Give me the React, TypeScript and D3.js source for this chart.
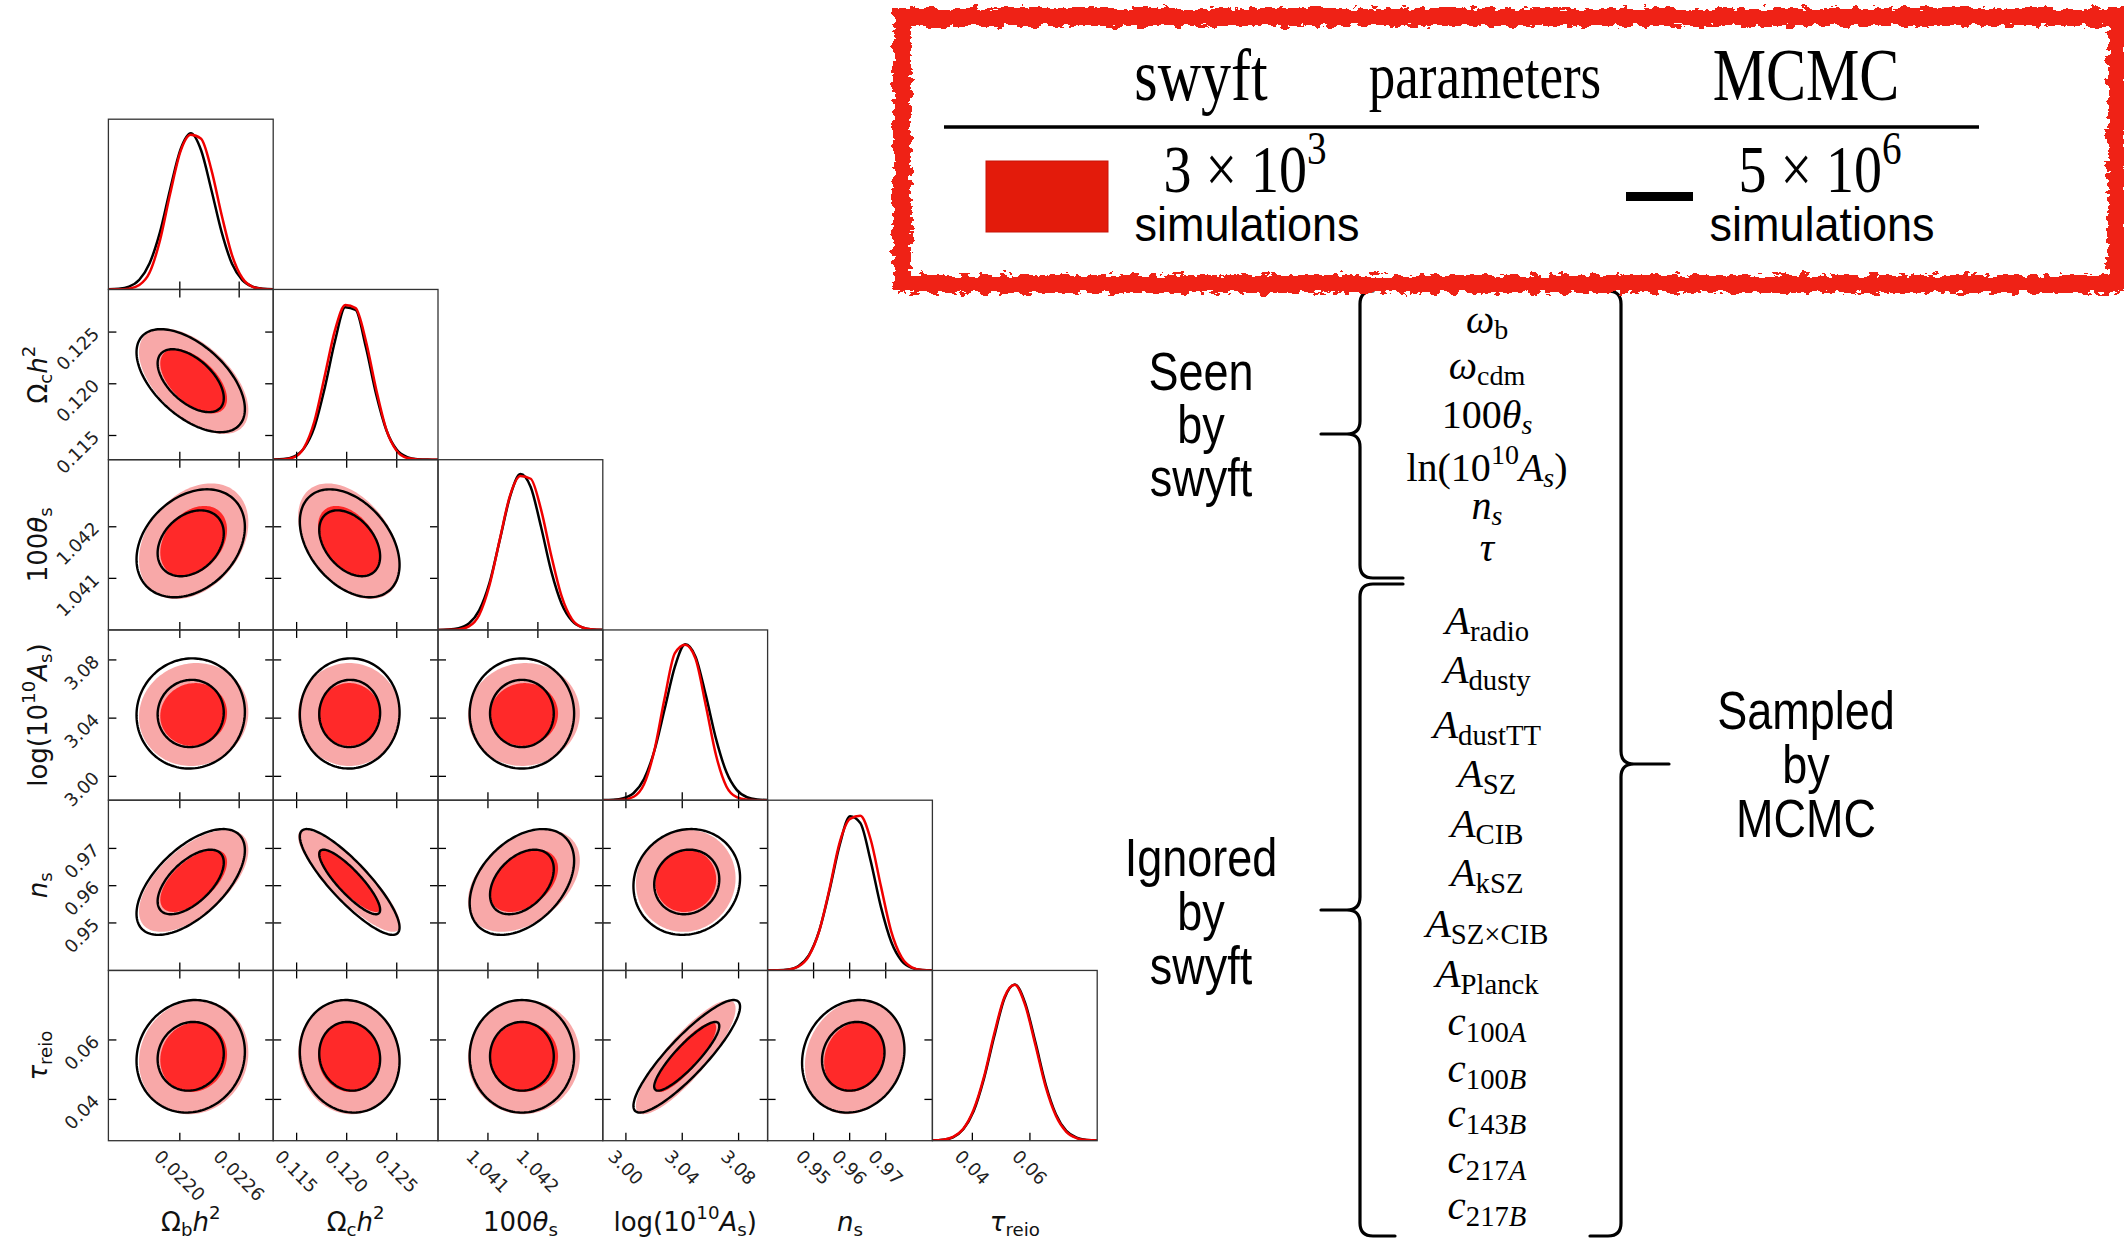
import React from 'react';
import * as d3 from 'd3';

// ---------------- data ----------------
const PARAM_NAMES = ['omega_b', 'omega_cdm', '100theta_s', 'logA', 'n_s', 'tau_reio'];
const AXIS_DOMAINS: [number, number][] = [
  [0.021278, 0.022944],
  [0.11266, 0.12912],
  [1.0400, 1.0433],
  [2.9836, 3.1006],
  [0.93725, 0.98294],
  [0.02612, 0.08337],
];
const AXIS_TICKS: number[][] = [
  [0.0220, 0.0226],
  [0.115, 0.120, 0.125],
  [1.041, 1.042],
  [3.00, 3.04, 3.08],
  [0.95, 0.96, 0.97],
  [0.04, 0.06],
];
const AXIS_TICK_LABELS: string[][] = [
  ['0.0220', '0.0226'],
  ['0.115', '0.120', '0.125'],
  ['1.041', '1.042'],
  ['3.00', '3.04', '3.08'],
  ['0.95', '0.96', '0.97'],
  ['0.04', '0.06'],
];
// posterior summaries
const MCMC_MEAN = [0.02211, 0.1203, 1.04168, 3.0432, 0.9610, 0.0545];
const MCMC_SIGMA = [0.000220, 0.00200, 0.00042, 0.0152, 0.0057, 0.0076];
const SWYFT_MEAN = [0.02214, 0.12025, 1.04172, 3.0425, 0.9613, 0.0542];
const SWYFT_SIGMA = [0.000222, 0.00205, 0.00045, 0.0142, 0.0055, 0.0077];
const PAIRS = ['1-0', '2-0', '2-1', '3-0', '3-1', '3-2', '4-0', '4-1', '4-2', '4-3', '5-0', '5-1', '5-2', '5-3', '5-4'];
const MCMC_RHO = [-0.55, 0.30, -0.40, 0.03, 0.02, 0.00, 0.60, -0.86, 0.40, 0.08, 0.08, -0.08, 0.00, 0.88, 0.12];
const SWYFT_RHO = [-0.55, 0.32, -0.42, 0.05, 0.00, 0.03, 0.60, -0.86, 0.40, 0.05, 0.08, -0.05, 0.02, 0.85, 0.15];
// 1D marginals, sampled at 17 evenly spaced points across each axis range
const MCMC_1D: number[][] = [
  [0.001, 0.004, 0.018, 0.062, 0.168, 0.365, 0.643, 0.896, 1.0, 0.891, 0.637, 0.365, 0.164, 0.060, 0.018, 0.004, 0.001],
  [0.0007, 0.0042, 0.020, 0.074, 0.209, 0.458, 0.760, 0.976, 0.959, 0.720, 0.418, 0.187, 0.063, 0.017, 0.0033, 0.0005, 0.0001],
  [0.0003, 0.0021, 0.0104, 0.041, 0.125, 0.301, 0.576, 0.855, 0.998, 0.915, 0.661, 0.375, 0.168, 0.059, 0.016, 0.0034, 0.0006],
  [0.0005, 0.0027, 0.0125, 0.046, 0.135, 0.315, 0.582, 0.855, 0.998, 0.919, 0.673, 0.391, 0.180, 0.066, 0.019, 0.0045, 0.0008],
  [0.0002, 0.0012, 0.0068, 0.029, 0.097, 0.252, 0.510, 0.804, 0.987, 0.944, 0.703, 0.407, 0.184, 0.063, 0.017, 0.0037, 0.0006],
  [0.0011, 0.0056, 0.022, 0.073, 0.188, 0.396, 0.667, 0.912, 1.0, 0.882, 0.631, 0.360, 0.168, 0.063, 0.019, 0.0046, 0.0009],
];
const SWYFT_1D: number[][] = [
  [0.0002, 0.0008, 0.005, 0.028, 0.108, 0.312, 0.614, 0.884, 0.99, 0.965, 0.766, 0.475, 0.22, 0.073, 0.017, 0.0032, 0.0004],
  [0.0003, 0.002, 0.015, 0.078, 0.246, 0.535, 0.83, 0.99, 0.97, 0.76, 0.45, 0.19, 0.056, 0.011, 0.002, 0.0003, 0],
  [0.0001, 0.0005, 0.0037, 0.0225, 0.096, 0.286, 0.58, 0.862, 0.985, 0.968, 0.772, 0.475, 0.216, 0.069, 0.016, 0.0026, 0.0004],
  [0, 0.0003, 0.0034, 0.022, 0.1015, 0.317, 0.653, 0.941, 0.995, 0.906, 0.607, 0.286, 0.088, 0.019, 0.0028, 0.0003, 0],
  [0.0001, 0.0008, 0.005, 0.025, 0.092, 0.25, 0.52, 0.82, 0.97, 0.99, 0.84, 0.54, 0.25, 0.085, 0.02, 0.003, 0.0004],
  [0.0013, 0.006, 0.024, 0.076, 0.198, 0.407, 0.685, 0.92, 0.998, 0.869, 0.613, 0.344, 0.158, 0.057, 0.017, 0.004, 0.0008],
];

type Seg = [string, string]; // style: r roman, i italic, br sub roman, bi sub italic, pr sup roman
const AXIS_LABELS: Seg[][] = [
  [['Ω', 'r'], ['b', 'br'], ['h', 'i'], ['2', 'pr']],
  [['Ω', 'r'], ['c', 'br'], ['h', 'i'], ['2', 'pr']],
  [['100', 'r'], ['θ', 'i'], ['s', 'br']],
  [['log(10', 'r'], ['10', 'pr'], ['A', 'i'], ['s', 'br'], [')', 'r']],
  [['n', 'i'], ['s', 'br']],
  [['τ', 'i'], ['reio', 'br']],
];
const SEEN_PARAMS: Seg[][] = [
  [['ω', 'i'], ['b', 'br']],
  [['ω', 'i'], ['cdm', 'br']],
  [['100', 'r'], ['θ', 'i'], ['s', 'bi']],
  [['ln(10', 'r'], ['10', 'pr'], ['A', 'i'], ['s', 'bi'], [')', 'r']],
  [['n', 'i'], ['s', 'bi']],
  [['τ', 'i']],
];
const IGNORED_PARAMS: Seg[][] = [
  [['A', 'i'], ['radio', 'br']],
  [['A', 'i'], ['dusty', 'br']],
  [['A', 'i'], ['dustTT', 'br']],
  [['A', 'i'], ['SZ', 'br']],
  [['A', 'i'], ['CIB', 'br']],
  [['A', 'i'], ['kSZ', 'br']],
  [['A', 'i'], ['SZ×CIB', 'br']],
  [['A', 'i'], ['Planck', 'br']],
  [['c', 'i'], ['100', 'br'], ['A', 'bi']],
  [['c', 'i'], ['100', 'br'], ['B', 'bi']],
  [['c', 'i'], ['143', 'br'], ['B', 'bi']],
  [['c', 'i'], ['217', 'br'], ['A', 'bi']],
  [['c', 'i'], ['217', 'br'], ['B', 'bi']],
];
const GROUP_TEXT = { seen: ['Seen', 'by', 'swyft'], ignored: ['Ignored', 'by', 'swyft'], sampled: ['Sampled', 'by', 'MCMC'] };
const LEGEND_HEAD = ['swyft', 'parameters', 'MCMC'];

// ---------------- layout ----------------
const GRID_LEFT = 108.4, GRID_TOP = 119.2, CELL_W = 164.8, CELL_H = 170.25;
const K68 = 1.52, K95 = 2.49;
const SEEN_Y = [333, 379, 428, 481, 519, 561];
const IGNORED_Y = [634, 683, 738, 787, 837, 886, 937, 987, 1035, 1082, 1127, 1173, 1219];
const LIST_X = 1487;
const SERIF = "'Liberation Serif', 'Times New Roman', serif";
const SANS = "'Liberation Sans', Arial, sans-serif";
const DJV = "'DejaVu Sans', sans-serif";
const TICK_FS = 18;

function renderSegs(segs: Seg[], fs: number, subDy = 0.22, supDy = -0.42) {
  let cur = 0;
  return segs.map(([t, st], k) => {
    const isSub = st[0] === 'b';
    const isSup = st[0] === 'p';
    const target = isSub ? subDy * fs : isSup ? supDy * fs : 0;
    const dy = target - cur;
    cur = target;
    const it = st[st.length - 1] === 'i';
    return (
      <tspan key={k} dy={dy !== 0 ? dy : undefined} fontSize={isSub || isSup ? fs * 0.7 : fs}
        fontStyle={it ? 'italic' : 'normal'}>{t}</tspan>
    );
  });
}

const labelW = (s: string, fs: number) => s.split('').reduce((a, c) => a + (c === '.' ? 0.318 : 0.636), 0) * fs;

function ellipsePath(mx: number, my: number, sx: number, sy: number, rho: number, k: number,
  xs: d3.ScaleLinear<number, number>, ys: d3.ScaleLinear<number, number>) {
  const c = Math.sqrt(1 - rho * rho);
  const pts: [number, number][] = d3.range(0, 2 * Math.PI, Math.PI / 72).map(t => [
    xs(mx + k * sx * Math.cos(t)),
    ys(my + k * sy * (rho * Math.cos(t) + c * Math.sin(t))),
  ]);
  return d3.line().curve(d3.curveLinearClosed)(pts) || '';
}

export default function App() {
  const panels: React.ReactNode[] = [];
  const TL = 8;
  for (let i = 0; i < 6; i++) {
    for (let j = 0; j <= i; j++) {
      const x0 = GRID_LEFT + j * CELL_W;
      const y0 = GRID_TOP + i * CELL_H;
      const xs = d3.scaleLinear().domain(AXIS_DOMAINS[j]).range([x0, x0 + CELL_W]);
      const id = `clip-${i}-${j}`;
      const content: React.ReactNode[] = [];
      const ticks: React.ReactNode[] = [];
      if (i === j) {
        const ys = d3.scaleLinear().domain([0, 1.09]).range([y0 + CELL_H, y0]);
        const dom = AXIS_DOMAINS[j];
        const line = d3.line<[number, number]>().x(d => xs(d[0])).y(d => ys(d[1])).curve(d3.curveMonotoneX);
        const toPts = (arr: number[]) => arr.map((v, k) => [dom[0] + (k * (dom[1] - dom[0])) / 16, v] as [number, number]);
        content.push(<path key="b" d={line(toPts(MCMC_1D[i])) || ''} fill="none" stroke="#000" strokeWidth={2.5} />);
        content.push(<path key="r" d={line(toPts(SWYFT_1D[i])) || ''} fill="none" stroke="#f00000" strokeWidth={2.5} />);
        AXIS_TICKS[j].forEach((t, k) => ticks.push(
          <line key={`tb${k}`} x1={xs(t)} x2={xs(t)} y1={y0 + CELL_H} y2={y0 + CELL_H - TL} stroke="#000" strokeWidth={1.3} />));
      } else {
        const ys = d3.scaleLinear().domain(AXIS_DOMAINS[i]).range([y0 + CELL_H, y0]);
        const p = PAIRS.indexOf(`${i}-${j}`);
        const rr = SWYFT_RHO[p], rb = MCMC_RHO[p];
        content.push(<path key="r95" d={ellipsePath(SWYFT_MEAN[j], SWYFT_MEAN[i], SWYFT_SIGMA[j], SWYFT_SIGMA[i], rr, K95, xs, ys)} fill="#f8a8a8" />);
        content.push(<path key="r68" d={ellipsePath(SWYFT_MEAN[j], SWYFT_MEAN[i], SWYFT_SIGMA[j], SWYFT_SIGMA[i], rr, K68, xs, ys)} fill="#ff2929" />);
        content.push(<path key="b95" d={ellipsePath(MCMC_MEAN[j], MCMC_MEAN[i], MCMC_SIGMA[j], MCMC_SIGMA[i], rb, K95, xs, ys)} fill="none" stroke="#000" strokeWidth={2.4} />);
        content.push(<path key="b68" d={ellipsePath(MCMC_MEAN[j], MCMC_MEAN[i], MCMC_SIGMA[j], MCMC_SIGMA[i], rb, K68, xs, ys)} fill="none" stroke="#000" strokeWidth={2.4} />);
        AXIS_TICKS[j].forEach((t, k) => {
          ticks.push(<line key={`tb${k}`} x1={xs(t)} x2={xs(t)} y1={y0 + CELL_H} y2={y0 + CELL_H - TL} stroke="#000" strokeWidth={1.3} />);
          ticks.push(<line key={`tt${k}`} x1={xs(t)} x2={xs(t)} y1={y0} y2={y0 + TL} stroke="#000" strokeWidth={1.3} />);
        });
        AXIS_TICKS[i].forEach((t, k) => {
          ticks.push(<line key={`tl${k}`} x1={x0} x2={x0 + TL} y1={ys(t)} y2={ys(t)} stroke="#000" strokeWidth={1.3} />);
          ticks.push(<line key={`tr${k}`} x1={x0 + CELL_W} x2={x0 + CELL_W - TL} y1={ys(t)} y2={ys(t)} stroke="#000" strokeWidth={1.3} />);
        });
        if (j === 0) {
          AXIS_TICKS[i].forEach((t, k) => {
            const px = x0 - 8, py = ys(t) + 3;
            ticks.push(<text key={`yl${k}`} transform={`translate(${px},${py}) rotate(-45)`} textAnchor="end"
              fontFamily={DJV} fontSize={TICK_FS} fill="#222">{AXIS_TICK_LABELS[i][k]}</text>);
          });
        }
      }
      if (i === 5) {
        AXIS_TICKS[j].forEach((t, k) => {
          const lab = AXIS_TICK_LABELS[j][k];
          const w = labelW(lab, TICK_FS), h = 0.73 * TICK_FS;
          const sx = xs(t) - 0.354 * (w + h), sy = y0 + CELL_H + 17;
          ticks.push(<text key={`xl${k}`} transform={`translate(${sx},${sy}) rotate(45)`} textAnchor="start"
            fontFamily={DJV} fontSize={TICK_FS} fill="#222">{lab}</text>);
        });
      }
      panels.push(
        <g key={id}>
          <clipPath id={id}><rect x={x0} y={y0} width={CELL_W} height={CELL_H} /></clipPath>
          <g clipPath={`url(#${id})`}>{content}</g>
          {ticks}
          <rect x={x0} y={y0} width={CELL_W} height={CELL_H} fill="none" stroke="#333" strokeWidth={1.3} />
        </g>
      );
    }
  }

  const axisTitles = AXIS_LABELS.map((segs, k) => (
    <text key={`ax${k}`} x={GRID_LEFT + (k + 0.5) * CELL_W} y={1231} textAnchor="middle" fontFamily={DJV} fontSize={26} fill="#111">
      {renderSegs(segs, 26, 0.2, -0.45)}
    </text>
  ));
  const yTitles = AXIS_LABELS.slice(1).map((segs, k) => (
    <text key={`ay${k}`} transform={`translate(47,${GRID_TOP + (k + 1.5) * CELL_H}) rotate(-90)`} textAnchor="middle"
      fontFamily={DJV} fontSize={26} fill="#111">
      {renderSegs(segs, 26, 0.2, -0.45)}
    </text>
  ));

  const stretched = (x: number, y: number, sy: number, node: React.ReactNode, key: string) => (
    <g key={key} transform={`translate(${x},${y}) scale(1,${sy})`}>{node}</g>
  );

  const groupText = (lines: string[], cx: number, ys: number[], key: string) => lines.map((t, k) =>
    stretched(cx, ys[k], 1.2, <text textAnchor="middle" fontFamily={SANS} fontSize={45} fill="#000">{t}</text>, `${key}${k}`));

  return (
    <svg width={2124} height={1239} viewBox="0 0 2124 1239" style={{ position: 'absolute', left: 0, top: 0, background: '#fff' }}
      xmlns="http://www.w3.org/2000/svg">
      <defs>
        <filter id="rough" x="-3%" y="-15%" width="106%" height="130%">
          <feTurbulence type="fractalNoise" baseFrequency="0.1 0.16" numOctaves={3} seed={4} result="n" />
          <feDisplacementMap in="SourceGraphic" in2="n" scale={13} xChannelSelector="R" yChannelSelector="G" />
        </filter>
      </defs>
      <rect x={0} y={0} width={2124} height={1239} fill="#fff" />
      {panels}
      {axisTitles}
      {yTitles}

      {/* right-hand annotation */}
      {groupText(GROUP_TEXT.seen, 1201, [390, 443, 496], 'gs')}
      {groupText(GROUP_TEXT.ignored, 1201, [876, 930, 984], 'gi')}
      {groupText(GROUP_TEXT.sampled, 1806, [729, 783, 837], 'gm')}
      <g fill="none" stroke="#000" strokeWidth={3.2} strokeLinecap="round">
        <path d="M1373,291 Q1360,291 1360,304 L1360,421 Q1360,434 1347,434 L1321,434 M1347,434 Q1360,434 1360,447 L1360,565 Q1360,578 1373,578 L1403,578" />
        <path d="M1403,584 L1373,584 Q1360,584 1360,597 L1360,897 Q1360,910 1347,910 L1321,910 M1347,910 Q1360,910 1360,923 L1360,1223 Q1360,1236 1373,1236 L1395,1236" />
        <path d="M1608,291 Q1621,291 1621,304 L1621,751 Q1621,764 1634,764 L1669,764 M1634,764 Q1621,764 1621,777 L1621,1223 Q1621,1236 1608,1236 L1590,1236" />
      </g>
      {SEEN_PARAMS.map((segs, k) => (
        <text key={`sp${k}`} x={LIST_X} y={SEEN_Y[k]} textAnchor="middle" fontFamily={SERIF} fontSize={40} fill="#000">
          {renderSegs(segs, 40, 0.16, -0.42)}
        </text>
      ))}
      {IGNORED_PARAMS.map((segs, k) => (
        <text key={`ip${k}`} x={LIST_X} y={IGNORED_Y[k]} textAnchor="middle" fontFamily={SERIF} fontSize={41} fill="#000">
          {renderSegs(segs, 41, 0.18, -0.45)}
        </text>
      ))}

      {/* legend box */}
      {stretched(1201, 100, 1.25, <text textAnchor="middle" fontFamily={SERIF} fontSize={60}>{LEGEND_HEAD[0]}</text>, 'h0')}
      {stretched(1485, 98, 1.25, <text textAnchor="middle" fontFamily={SERIF} fontSize={53}>{LEGEND_HEAD[1]}</text>, 'h1')}
      {stretched(1806, 100, 1.25, <text textAnchor="middle" fontFamily={SERIF} fontSize={60}>{LEGEND_HEAD[2]}</text>, 'h2')}
      <line x1={944} x2={1979} y1={127} y2={127} stroke="#000" strokeWidth={3.5} />
      <rect x={986} y={161} width={122} height={71} fill="#e31b0b" stroke="#c81408" strokeWidth={1} />
      <rect x={1626} y={192} width={67} height={9} fill="#000" />
      {stretched(1245, 192, 1.2, <text textAnchor="middle" fontFamily={SERIF} fontSize={56}>{renderSegs([['3 × 10', 'r'], ['3', 'pr']], 56, 0, -0.42)}</text>, 'n1')}
      {stretched(1820, 192, 1.2, <text textAnchor="middle" fontFamily={SERIF} fontSize={56}>{renderSegs([['5 × 10', 'r'], ['6', 'pr']], 56, 0, -0.42)}</text>, 'n2')}
      {stretched(1247, 241, 1.08, <text textAnchor="middle" fontFamily={SANS} fontSize={45}>simulations</text>, 's1')}
      {stretched(1822, 241, 1.08, <text textAnchor="middle" fontFamily={SANS} fontSize={45}>simulations</text>, 's2')}
      <rect x={902} y={17} width={1215} height={267} fill="none" stroke="#ef2212" strokeWidth={12} />
      <rect x={902} y={17} width={1215} height={267} fill="none" stroke="#ef2212" strokeWidth={18} filter="url(#rough)" />
    </svg>
  );
}
